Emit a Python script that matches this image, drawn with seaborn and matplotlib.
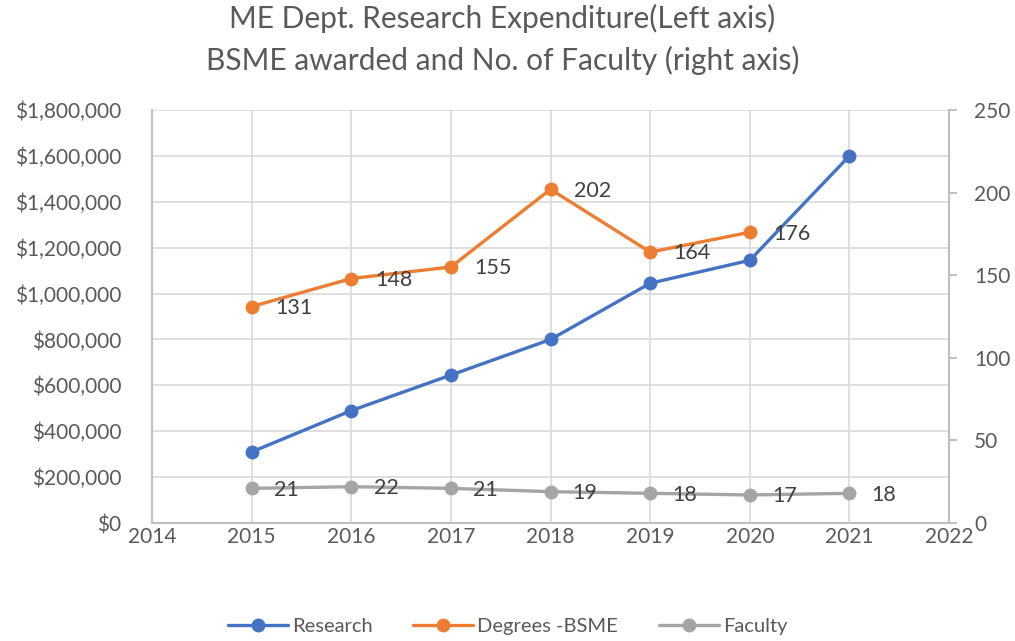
import numpy as np
import pandas as pd
import matplotlib
matplotlib.use("Agg")
import matplotlib.pyplot as plt
import seaborn as sns
from matplotlib.ticker import FuncFormatter
from matplotlib.lines import Line2D

# data
years = [2015, 2016, 2017, 2018, 2019, 2020, 2021]
research = [310000, 490000, 645000, 800000, 1045000, 1145000, 1600000]
degree_years = [2015, 2016, 2017, 2018, 2019, 2020]
degrees_bsme = [131, 148, 155, 202, 164, 176]
faculty = [21, 22, 21, 19, 18, 17, 18]

BLUE = "#4472C4"
ORANGE = "#ED7D31"
GRAY = "#A5A5A5"
TEXT = "#595959"
GRID = "#D9D9D9"

sns.set_style("white")
plt.rcParams["font.family"] = ["Lato", "DejaVu Sans"]

fig = plt.figure(figsize=(10.15, 6.41), dpi=100)
ax = fig.add_axes([0.1498, 0.184, 0.7852, 0.6444])
ax2 = ax.twinx()

df_r = pd.DataFrame({"year": years, "value": research})
df_d = pd.DataFrame({"year": degree_years, "value": degrees_bsme})
df_f = pd.DataFrame({"year": years, "value": faculty})

line_kw = dict(linewidth=2.4, marker="o", markersize=10, markeredgewidth=0)
sns.lineplot(data=df_r, x="year", y="value", ax=ax, color=BLUE, **line_kw)
sns.lineplot(data=df_d, x="year", y="value", ax=ax2, color=ORANGE, **line_kw)
sns.lineplot(data=df_f, x="year", y="value", ax=ax2, color=GRAY, **line_kw)

# data labels
for x, y in zip(degree_years, degrees_bsme):
    ax2.annotate(str(y), (x, y), xytext=(17, -1), textcoords="offset points",
                 ha="left", va="center", fontsize=15.5, color="#404040")
for x, y in zip(years, faculty):
    ax2.annotate(str(y), (x, y), xytext=(16, -1), textcoords="offset points",
                 ha="left", va="center", fontsize=15.5, color="#404040")

ax.set_xlim(2014, 2022)
ax.set_ylim(0, 1800000)
ax2.set_ylim(0, 250)
ax.set_xticks(range(2014, 2023))
ax.set_yticks(np.arange(0, 1800001, 200000))
ax2.set_yticks(np.arange(0, 251, 50))
ax.yaxis.set_major_formatter(FuncFormatter(lambda v, p: f"${v:,.0f}"))

ax.grid(True, color=GRID, linewidth=1.2)
ax.set_axisbelow(True)
ax.set_xlabel("")
ax.set_ylabel("")
ax2.set_ylabel("")

for a in (ax, ax2):
    for s in a.spines.values():
        s.set_visible(False)
ax.spines["left"].set_visible(True)
ax.spines["left"].set_color("#BFBFBF")
ax.spines["bottom"].set_visible(True)
ax.spines["bottom"].set_color("#BFBFBF")
ax2.spines["right"].set_visible(True)
ax2.spines["right"].set_color("#BFBFBF")
for a in (ax, ax2):
    for s in a.spines.values():
        s.set_linewidth(1.5)

ax.tick_params(axis="y", length=0, pad=22, labelsize=15, labelcolor=TEXT)
ax.tick_params(axis="x", length=0, pad=3, labelsize=15, labelcolor=TEXT)
ax2.tick_params(axis="y", length=6, width=1.5, color="#BFBFBF", pad=12,
                labelsize=15, labelcolor=TEXT)

fig.text(0.495, 0.972, "ME Dept. Research Expenditure(Left axis)", ha="center",
         va="center", fontsize=21.5, color=TEXT)
fig.text(0.495, 0.906, "BSME awarded and No. of Faculty (right axis)", ha="center",
         va="center", fontsize=21.5, color=TEXT)

handles = [Line2D([], [], color=c, linewidth=2.4, marker="o", markersize=10,
                  markeredgewidth=0) for c in (BLUE, ORANGE, GRAY)]
fig.legend(handles, ["Research", "Degrees -BSME", "Faculty"], loc="center",
           bbox_to_anchor=(0.5, 0.022), ncol=3, frameon=False, fontsize=14.5,
           labelcolor=TEXT, handlelength=3.0, handletextpad=0.2, columnspacing=2.0)

fig.savefig("out.png", dpi=100)
